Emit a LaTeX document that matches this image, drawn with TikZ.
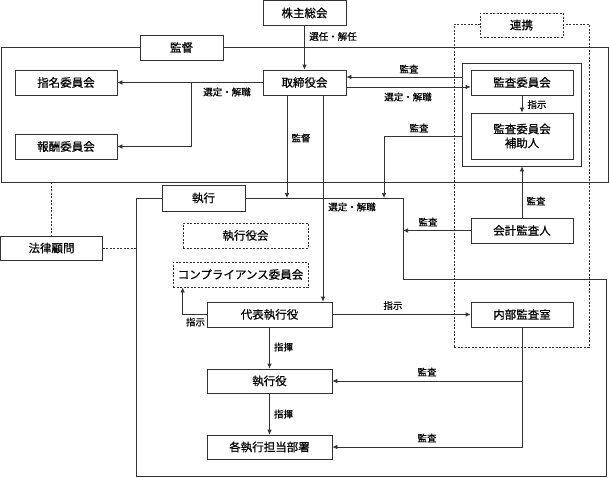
\documentclass[tikz,border=0pt]{standalone}
\usepackage{fontspec}
\setmainfont{Noto Sans CJK JP}[FakeBold=0.6]
\usetikzlibrary{positioning,arrows.meta}
\tikzset{
         box/.style={draw, fill=white, text=black, inner sep=0pt,
                     minimum width=125pt, minimum height=25pt,
                     font=\fontsize{11.5}{14}\selectfont},
         dbox/.style={box, dash pattern=on 2pt off 1.5pt},
         lbl/.style={text=black, inner sep=1pt, font=\fontsize{9.5}{11}\selectfont},
         myarrow/.style={-{Latex[length=5pt, width=4.5pt]}},
         dline/.style={dash pattern=on 2pt off 1.5pt},
}

\begin{document}
\begin{tikzpicture}[x=1pt, y=-1pt, line width=0.7pt, color=black!80]
    \useasboundingbox (0,0) rectangle (609,477);

    % Rahmen
    \node[draw, inner sep=0pt, minimum width=607pt, minimum height=135pt] (kframe) at (304.5,114.5) {};
    \node[draw, dline, inner sep=0pt, minimum width=135pt, minimum height=323pt] (rframe) at (521.5,185.5) {};
    \draw (136,198) -- (403,198) -- (403,279) -- (606,279) -- (606,476) -- (136,476) -- cycle;
    \coordinate (sktop) at (136,198);
    \coordinate (skside) at (403,231);
    \node[draw, inner sep=0pt, minimum width=119pt, minimum height=103pt] (grp) at (522,114.5) {};

    % Kopf
    \node[box, minimum width=83pt] (kabu) at (304.5,13) {株主総会};
    \node[box, minimum width=83pt] (kantoku) at (181.5,47.5) {監督};
    \node[dbox, minimum width=83pt, minimum height=24pt] (renkei) at (521.5,25) {連携};
    \node[box, minimum width=83pt] (tori) at (304.5,82.5) {取締役会};

    % Ausschuesse
    \node[box, minimum width=102pt] (shimei) at (66,82.5) {指名委員会};
    \node[box, minimum width=102pt] (houshu) at (66,146.5) {報酬委員会};
    \node[box, minimum width=102pt] (kansa) at (522,82.5) {監査委員会};
    \node[box, minimum width=102pt, minimum height=46pt, align=center] (hojo) at (522,136) {監査委員会\\補助人};
    \node[box, minimum width=102pt] (kaikei) at (522,230.5) {会計監査人};
    \node[box, minimum width=102pt] (naibu) at (522,314.5) {内部監査室};

    % Ausfuehrung
    \node[box, minimum width=83pt, minimum height=26pt] (shikkou) at (203.5,198) {執行};
    \node[dbox] (yakkai) at (245.5,235.5) {執行役会};
    \node[dbox, minimum width=135pt] (comp) at (240.5,274.5) {コンプライアンス委員会};
    \node[box, minimum width=102pt, minimum height=24pt] (houritsu) at (51.5,248) {法律顧問};
    \node[box] (daihyo) at (269.5,314.5) {代表執行役};
    \node[box, minimum height=24pt] (yaku) at (269.5,381) {執行役};
    \node[box, minimum height=24pt] (bu) at (269.5,447) {各執行担当部署};

    % Pfeile oben
    \draw[myarrow] (kabu) -- (tori);
    \node[lbl] (l_senin) at (333,36.5) {選任・解任};
    \coordinate (br1) at (191,82.5);
    \draw[myarrow] (tori.west) -- (shimei.east);
    \draw[myarrow] (br1) |- (houshu.east);
    \node[lbl] (l_sentei1) at (227,92) {選定・解職};
    \coordinate (t1) at ([yshift=5.5pt]tori.east);
    \coordinate (t2) at ([yshift=-4.5pt]tori.east);
    \draw[myarrow] (grp.west |- t1) -- (t1);
    \node[lbl] (l_kansa1) at (409,69) {監査};
    \draw[myarrow] (t2) -- (kansa.west |- t2);
    \node[lbl] (l_sentei2) at (408,97) {選定・解職};
    \draw[myarrow] (kansa) -- (hojo);
    \node[lbl] (l_shiji1) at (537,104.5) {指示};
    \coordinate (ftop) at (384,198);
    \draw[myarrow] (grp.west |- hojo) -| (ftop);
    \node[lbl] (l_kansa2) at (419,128) {監査};

    % Pfeile Mitte
    \coordinate (t3) at ([xshift=-17.5pt]tori.south);
    \coordinate (t4) at ([xshift=18.5pt]tori.south);
    \draw[myarrow] (t3) -- (t3 |- sktop);
    \node[lbl] (l_kantoku) at (301,138) {監督};
    \draw[myarrow] (t4) -- (t4 |- daihyo.north);
    \node[lbl] (l_sentei3) at (352,207) {選定・解職};
    \draw[myarrow] (kaikei.north) -- (kaikei.north |- grp.south);
    \node[lbl] (l_kansa3) at (536,201) {監査};
    \draw[myarrow] (kaikei.west) -- (kaikei.west -| skside);
    \node[lbl] (l_kansa4) at (428,222) {監査};

    % gestrichelt
    \draw[dline] (kframe.south -| houritsu) -- (houritsu.north);
    \draw[dline] (houritsu.east) -- (houritsu.east -| sktop);

    % Pfeile unten
    \draw[myarrow] (daihyo.east) -- (naibu.west);
    \node[lbl] (l_shiji2) at (393,305.5) {指示};
    \coordinate (c1) at ([xshift=10pt]comp.south west);
    \draw[myarrow] (daihyo.west) -| (c1);
    \node[lbl] (l_shiji3) at (195.5,322) {指示};
    \draw[myarrow] (daihyo) -- (yaku);
    \node[lbl] (l_shiki1) at (283.5,347) {指揮};
    \draw[myarrow] (yaku) -- (bu);
    \node[lbl] (l_shiki2) at (283.5,414) {指揮};
    \draw[myarrow] (naibu.south) |- (bu.east);
    \draw[myarrow] (naibu.south |- yaku.east) -- (yaku.east);
    \node[lbl] (l_kansa5) at (427,372) {監査};
    \node[lbl] (l_kansa6) at (427,438) {監査};
\end{tikzpicture}
\end{document}
